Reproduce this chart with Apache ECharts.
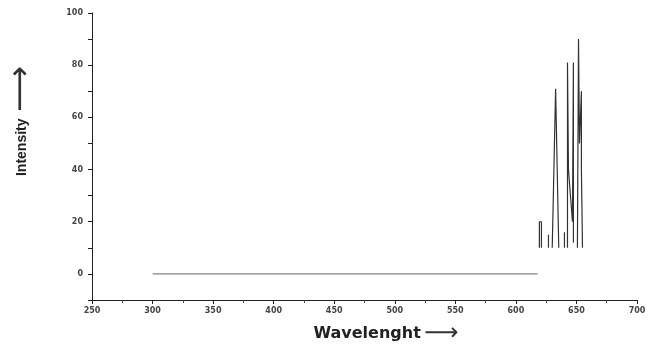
<!DOCTYPE html>
<html><head><meta charset="utf-8">
<script src="https://cdn.jsdelivr.net/npm/echarts@6/dist/echarts.min.js"></script>
<style>html,body{margin:0;padding:0;background:#fff}#c{width:655px;height:351px}</style>
</head><body><div id="c"></div>
<script>
// Baseline (flat emission at zero)
const baseWave = [300, 618];
const baseInt  = [0, 0];
// Emission spikes (null = break between separate segments)
const spikeWave = [619.4, 619.4, 621.1, 621.1, null,
                   626.9, 626.9, null,
                   630.0, 632.8, 635.4, null,
                   640.1, 640.1, null,
                   642.6, 642.6, 643.4, 646.7, 647.5, 647.5, null,
                   650.8, 651.7, 652.5, 654.1, 654.1, 655.0];
const spikeInt  = [10, 20, 20, 10, null,
                   10, 15, null,
                   10, 71, 10, null,
                   10, 16, null,
                   10, 81, 40, 20, 81, 12, null,
                   10, 90, 50, 70, 40, 10];
const xTicks = [250, 300, 350, 400, 450, 500, 550, 600, 650, 700];
const yTicks = [0, 20, 40, 60, 80, 100];

const chart = echarts.init(document.getElementById('c'), null, {renderer: 'canvas'});
const lblStyle = {color: '#444', fontSize: 8, fontWeight: 'bold', fontFamily: 'DejaVu Sans'};
chart.setOption({
  animation: false,
  backgroundColor: '#fff',
  grid: {left: 92, right: 18, top: 13, bottom: 51},
  xAxis: {
    type: 'value', min: 250, max: 700, interval: 50,
    axisLine: {onZero: false, lineStyle: {color: '#222', width: 1}},
    axisTick: {show: true, inside: false, length: 4, lineStyle: {color: '#222'}},
    minorTick: {show: true, splitNumber: 2, length: 3, lineStyle: {color: '#444'}},
    splitLine: {show: false},
    axisLabel: Object.assign({margin: 7, formatter: v => xTicks.includes(v) ? String(v) : ''}, lblStyle)
  },
  yAxis: {
    type: 'value', min: -10, max: 100, interval: 10,
    axisLine: {show: true, onZero: false, lineStyle: {color: '#222', width: 1}},
    axisTick: {show: true, inside: false, length: 4, lineStyle: {color: '#222'}},
    splitLine: {show: false},
    axisLabel: Object.assign({margin: 9, formatter: v => yTicks.includes(v) ? String(v) : ''}, lblStyle)
  },
  graphic: [
    {type: 'text', x: 22, y: 121, rotation: Math.PI / 2,
     style: {text: '{t|Intensity}  {a|\u27F6}', align: 'center', verticalAlign: 'middle',
             rich: {t: {font: 'bold 14px "Liberation Sans"', fill: '#222'},
                    a: {font: '32px "DejaVu Sans"', fill: '#333'}}}},
    {type: 'text', x: 386, y: 334,
     style: {text: '{t|Wavelenght} {a|\u27F6}', align: 'center', verticalAlign: 'middle',
             rich: {t: {font: 'bold 16px "DejaVu Sans"', fill: '#222'},
                    a: {font: '24px "DejaVu Sans"', fill: '#333'}}}}
  ],
  series: [
    {type: 'line', symbol: 'none', silent: true,
     lineStyle: {color: '#666', width: 1},
     data: baseWave.map((w, i) => [w, baseInt[i]])},
    {type: 'line', symbol: 'none', silent: true, connectNulls: false,
     lineStyle: {color: '#333', width: 1.2},
     data: spikeWave.map((w, i) => w === null ? ['-', '-'] : [w, spikeInt[i]])}
  ]
});
</script></body></html>
